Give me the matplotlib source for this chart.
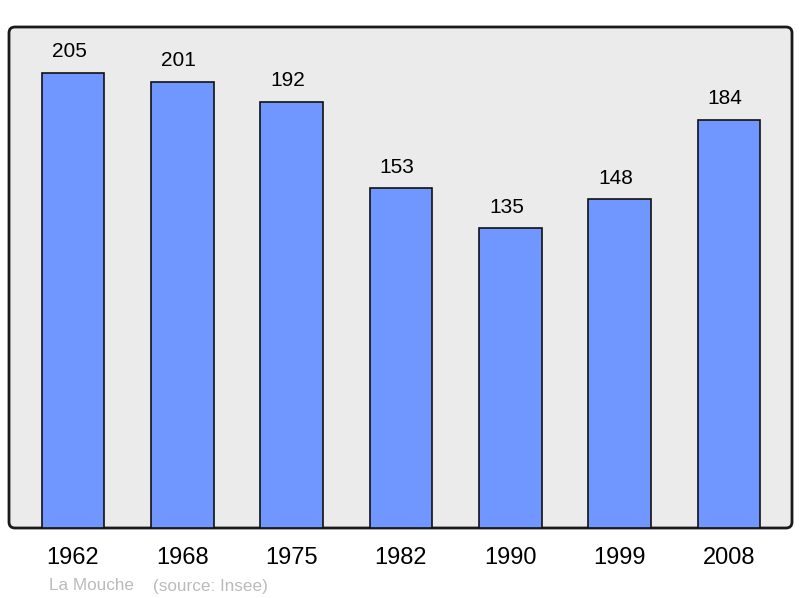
import matplotlib.pyplot as plt
from matplotlib.patches import FancyBboxPatch

years = ['1962', '1968', '1975', '1982', '1990', '1999', '2008']
population = [205, 201, 192, 153, 135, 148, 184]

plt.rcParams['font.family'] = ['Liberation Sans', 'DejaVu Sans']

fig = plt.figure(figsize=(8, 5.98), dpi=100)
ax = fig.add_axes([9 / 800, 70 / 598, 783 / 800, 501 / 598])
ax.set_facecolor('none')

# rounded grey frame behind the axes
frame = FancyBboxPatch((0.09, 0.70), 7.83, 5.01,
                       boxstyle='round,pad=0,rounding_size=0.06',
                       transform=fig.dpi_scale_trans,
                       facecolor='#ebebeb', edgecolor='#1a1a1a',
                       linewidth=2, zorder=-1)
fig.patches.append(frame)

x = range(len(years))
ax.bar(x, population, width=0.575, color='#7097ff', edgecolor='#111111',
       linewidth=1.2)
for xi, v in zip(x, population):
    ax.text(xi - 0.035, v + 9.6, str(v), ha='center', va='center',
            fontsize=15)

ax.set_xlim(-0.585, 6.576)
ax.set_ylim(0, 225.7)
for s in ax.spines.values():
    s.set_visible(False)
ax.set_yticks([])
ax.set_xticks(list(x))
ax.set_xticklabels(years, fontsize=17)
ax.tick_params(axis='x', length=0, pad=14)

fig.text(49 / 800, 1 - 586 / 598, 'La Mouche', fontsize=12.3,
         color='#bbbbbb', va='center')
fig.text(153 / 800, 1 - 586 / 598, '(source: Insee)', fontsize=12.3,
         color='#bbbbbb', va='center')

fig.savefig('out.png', dpi=100)
